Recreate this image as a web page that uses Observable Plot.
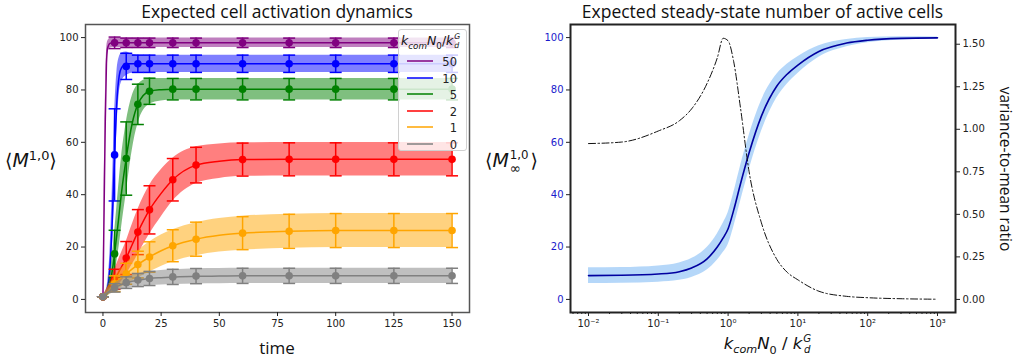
<!DOCTYPE html>
<html><head><meta charset="utf-8">
<script src="https://cdn.jsdelivr.net/npm/d3@7"></script>
<script src="https://cdn.jsdelivr.net/npm/@observablehq/plot@0.6"></script>
<style>
body{margin:0;background:#fff;}
#wrap{position:relative;width:1020px;height:363px;overflow:hidden;background:#fff;}
.abs{position:absolute;}
.title{font-family:"Open Sans",sans-serif;font-size:17.5px;line-height:20px;color:#111;text-align:center;white-space:nowrap;}
.math{font-family:"DejaVu Sans",sans-serif;color:#111;white-space:nowrap;}
.math i{font-style:oblique;}
.ss{display:inline-flex;flex-direction:column;vertical-align:middle;line-height:1.05;font-size:0.62em;margin-left:1px;}
#legend{border:1px solid #d0d0d0;border-radius:3px;background:rgba(255,255,255,0.8);font-family:"DejaVu Sans",sans-serif;}
</style>
</head><body><div id="wrap"></div>
<script>
// ---------- data: left panel ----------
const seriesLabels = ["50", "10", "5", "2", "1", "0"];
const seriesColors = ["#800080", "#0000ff", "#008000", "#ff0000", "#ffa500", "#808080"];
const tCurve = [0,0.5,1,1.5,2,3,4,5,6,7,8,10,12.5,15,20,25,30,40,50,60,80,100,125,150];
const curveMean = [
  [1,35,68,90,96,97.8,98,98,98,98,98,98,98,98,98,98,98,98,98,98,98,98,98,98],
  [1,1.3,1.8,2.5,4,12,30,55,76,85.5,88.5,90,90,90,90,90,90,90,90,90,90,90,90,90],
  [1,1.3,1.7,2.2,3,6,11,17.5,25,33,41,54,67,74.5,79.5,80.1,80.3,80.3,80.3,80.3,80.3,80.3,80.3,80.3],
  [1,1.5,2,2.6,3.2,4.5,6,7.7,9.2,10.8,12.4,15.8,20.8,25.7,34.2,40.5,45.7,51.3,52.8,53.4,53.5,53.5,53.5,53.5],
  [1,1.5,2,2.5,3,4,5,6,6.8,7.6,8.3,9.8,11.6,13.3,16.2,18.6,20.5,23,24.5,25.3,26,26.3,26.3,26.3],
  [1,1.5,1.9,2.3,2.7,3.3,3.9,4.4,4.9,5.3,5.7,6.3,6.9,7.3,8,8.3,8.5,8.8,8.9,9,9,9,9,9]
];
const curveSd = [
  [0,6,6,4,2.5,1.9,1.8,1.8,1.8,1.8,1.8,1.8,1.8,1.8,1.8,1.8,1.8,1.8,1.8,1.8,1.8,1.8,1.8,1.8],
  [0,0.5,1,1.5,2.5,6,12,16,11,7,5.5,4.5,3.6,3.3,3.3,3.3,3.3,3.3,3.3,3.3,3.3,3.3,3.3,3.3],
  [0,0.4,0.8,1.2,1.8,3.5,5.5,8,10.5,12.5,13.5,13.5,10.5,7.5,5,4.3,4.1,4.1,4.1,4.1,4.1,4.1,4.1,4.1],
  [0,0.5,0.8,1.1,1.4,2,2.9,3.8,4.4,5,5.5,6.3,7.6,8.6,9.3,9,8.2,7,6.6,6.4,6.4,6.4,6.4,6.4],
  [0,0.6,0.9,1.2,1.5,2,2.5,3,3.2,3.5,3.7,4,4.6,5.1,5.7,6,6.1,6.3,6.4,6.5,6.5,6.5,6.5,6.5],
  [0,0.6,0.8,1,1.1,1.3,1.5,1.7,1.8,1.95,2.05,2.2,2.4,2.5,2.65,2.75,2.8,2.9,2.9,2.9,2.9,2.9,2.9,2.9]
];
const tPoints = [0,5,10,15,20,30,40,60,80,100,125,150];
const pointMean = [
  [1,98,98,98,98,98,98,98,98,98,98,98],
  [1,55.2,89,90,90,90,90,90,90,90,90,90],
  [1,17.4,53.8,74.5,79.5,80.3,80.3,80.3,80.3,80.3,80.3,80.3],
  [1,7.7,15.8,25.7,34.2,45.7,51.3,53.4,53.5,53.5,53.5,53.5],
  [1,6,9.8,13.3,16.2,20.5,23,25.3,26,26.3,26.3,26.3],
  [1,4.4,6.4,7.4,8,8.6,8.9,9,9,9,9,9]
];
const pointErr = [
  [0,2.2,1.8,1.8,1.8,1.8,1.8,1.8,1.8,1.8,1.8,1.8],
  [0,17.6,5,3.3,3.3,3.3,3.3,3.3,3.3,3.3,3.3,3.3],
  [0,9,14,7.7,5,4.1,4.1,4.1,4.1,4.1,4.1,4.1],
  [0,3.8,6.3,8.6,9.2,8.1,6.8,6.3,6.3,6.3,6.3,6.3],
  [0,3,4,5.1,5.8,6.1,6.5,6.3,6.5,6.5,6.5,6.5],
  [0,1.6,2.2,2.5,2.7,2.9,2.9,2.9,2.9,2.9,2.9,2.9]
];
const timeTicks = [0,25,50,75,100,125,150];
const countTicks = [0,20,40,60,80,100];

// ---------- data: right panel ----------
const kVals = [0.01,0.03,0.1,0.2,0.3,0.5,0.7,0.85,1,1.2,1.5,2,3,5,7,10,20,50,100,300,1000];
const steadyMean = [9.1,9.2,9.7,10.6,12.0,15.5,20,23.5,27,34,44,56,70,81.5,86,89.5,94.7,97.9,99,99.7,99.9];
const steadySd = [3.0,3.0,3.1,3.3,3.6,4.3,5.0,5.6,6.1,6.5,6.8,6.6,5.9,4.5,3.8,3.2,2.2,1.4,1.0,0.6,0.3];
const vmr = [0.916,0.925,0.99,1.05,1.12,1.27,1.42,1.535,1.52,1.40,1.13,0.75,0.45,0.235,0.16,0.115,0.048,0.018,0.01,0.004,0.001];
const kMajor = [0.01,0.1,1,10,100,1000];
const kMajorLabels = ["10⁻²","10⁻¹","10⁰","10¹","10²","10³"];
const vmrTicks = [0,0.25,0.5,0.75,1.0,1.25,1.5];
const vmrMax = 1.539;

// ---------- build ----------
const wrap = document.getElementById("wrap");
const capSymbol = {draw(ctx, size){ const w = Math.sqrt(size/Math.PI); ctx.moveTo(-w,0); ctx.lineTo(w,0);} };
const font = {fontFamily:"DejaVu Sans, sans-serif", fontSize:"10px", color:"#222", background:"transparent", overflow:"visible"};

const leftMarks = [];
seriesLabels.forEach((lab, i) => {
  const col = seriesColors[i];
  const curve = tCurve.map((t, j) => ({t, m: curveMean[i][j], s: curveSd[i][j]}));
  const pts = tPoints.map((t, j) => ({t, m: pointMean[i][j], e: pointErr[i][j]}));
  leftMarks.push(
    Plot.areaY(curve, {x:"t", y1: d => d.m - d.s, y2: d => d.m + d.s, fill: col, fillOpacity: 0.5, curve: "monotone-x"}),
    Plot.line(curve, {x:"t", y:"m", stroke: col, strokeWidth: 1.5, curve: "monotone-x"}),
    Plot.ruleX(pts, {x:"t", y1: d => d.m - d.e, y2: d => d.m + d.e, stroke: col, strokeWidth: 1.5}),
    Plot.dot(pts, {x:"t", y: d => d.m + d.e, symbol: capSymbol, r: 6, stroke: col, strokeWidth: 1.5, fill: "none"}),
    Plot.dot(pts, {x:"t", y: d => d.m - d.e, symbol: capSymbol, r: 6, stroke: col, strokeWidth: 1.5, fill: "none"}),
    Plot.dot(pts, {x:"t", y:"m", r: 3.8, fill: col, stroke: "none"})
  );
});
const left = Plot.plot({
  width: 500, height: 363,
  marginLeft: 85, marginRight: 31, marginTop: 24, marginBottom: 51,
  x: {domain: [-7.5, 157.5]},
  y: {domain: [-5, 105]},
  style: font,
  marks: [
    ...leftMarks,
    Plot.frame({stroke: "#555", strokeWidth: 1.5}),
    Plot.axisX({ticks: timeTicks, tickSize: 4, tickPadding: 3, label: null, tickFormat: d => String(d)}),
    Plot.axisY({ticks: countTicks, tickSize: 4, tickPadding: 3, label: null, tickFormat: d => String(d)})
  ]
});
left.style.position = "absolute"; left.style.left = "0px"; left.style.top = "0px";
wrap.appendChild(left);

const vScale = 100 / vmrMax;
const rData = kVals.map((k, j) => ({k, m: steadyMean[j], s: steadySd[j], v: vmr[j]}));
const minorK = [];
for (let e = -3; e <= 3; e++) for (let m = 2; m <= 9; m++) { const v = m * Math.pow(10, e); if (v > 0.0056 && v < 1800) minorK.push(v); }
const right = Plot.plot({
  width: 520, height: 363,
  marginLeft: 70, marginRight: 65, marginTop: 24, marginBottom: 51,
  x: {type: "log", domain: [Math.pow(10, -2.258), Math.pow(10, 3.258)]},
  y: {domain: [-5, 105]},
  style: font,
  marks: [
    Plot.areaY(rData, {x:"k", y1: d => d.m - d.s, y2: d => d.m + d.s, fill: "#a8d0f8", fillOpacity: 0.85, curve: "monotone-x"}),
    Plot.line(rData, {x:"k", y:"m", stroke: "#0000a0", strokeWidth: 1.6, curve: "monotone-x"}),
    Plot.line(rData, {x:"k", y: d => d.v * vScale, stroke: "#111", strokeWidth: 1, strokeDasharray: "7,2.5,1.5,2.5", curve: "monotone-x"}),
    Plot.frame({stroke: "#222", strokeWidth: 2}),
    Plot.axisX({ticks: kMajor, tickSize: 4, tickPadding: 3, label: null, tickFormat: d => kMajorLabels[kMajor.indexOf(d)]}),
    Plot.axisX({ticks: minorK, tickSize: 2, label: null, tickFormat: () => ""}),
    Plot.axisY({ticks: countTicks, tickSize: 4, label: null, tickFormat: () => ""}),
    Plot.axisY({ticks: countTicks, tickSize: 0, tickPadding: 7, label: null, color: "#1a1acc", tickFormat: d => String(d)}),
    Plot.axisY({anchor: "right", ticks: vmrTicks.map(t => t * vScale), tickSize: 4, tickPadding: 3, label: null,
      tickFormat: d => vmrTicks[vmrTicks.findIndex(t => Math.abs(t * vScale - d) < 1e-6)].toFixed(2)})
  ]
});
right.style.position = "absolute"; right.style.left = "500px"; right.style.top = "0px";
wrap.appendChild(right);

// ---------- text ----------
function addHTML(html, css, cls) {
  const d = document.createElement("div");
  d.className = "abs " + (cls || "");
  d.innerHTML = html;
  Object.assign(d.style, css);
  wrap.appendChild(d);
  return d;
}
addHTML("Expected cell activation dynamics", {left:"85px", width:"384px", top:"1px"}, "title");
addHTML("Expected steady-state number of active cells", {left:"570px", width:"385px", top:"1px"}, "title");
addHTML("time", {left:"85px", width:"384px", top:"338px", fontSize:"17px"}, "title");
addHTML("variance-to-mean ratio", {left:"916px", top:"159px", width:"180px", transform:"rotate(90deg)", transformOrigin:"50% 50%", fontSize:"15.5px"}, "title");
addHTML("⟨<i>M</i><sup style='font-size:0.68em'>1,0</sup>⟩", {left:"5px", top:"148px", fontSize:"19px"}, "math");
addHTML("⟨<i>M</i><span class='ss' style='margin-right:2px'><span style='margin-bottom:1px'>1,0</span><span style='font-size:1.15em;line-height:0.9'>∞</span></span>⟩", {left:"485px", top:"149px", fontSize:"19px"}, "math");
addHTML("<i>k<sub style='font-size:0.68em'>com</sub>N</i><sub style='font-size:0.68em'>0</sub> / <i>k</i><span class='ss'><i>G</i><i>d</i></span>",
  {left:"575px", width:"385px", top:"334px", fontSize:"16.5px", textAlign:"center"}, "math");

// legend
const lg = addHTML("", {left:"398px", top:"29px", width:"67px", height:"120px"});
lg.id = "legend";
const lt = document.createElement("div");
lt.className = "math";
Object.assign(lt.style, {position:"absolute", left:"2px", top:"3px", fontSize:"12.5px"});
lt.innerHTML = "<i>k<sub style='font-size:0.7em'>com</sub>N</i><sub style='font-size:0.7em'>0</sub>/<i>k</i><span class='ss'><i>G</i><i>d</i></span>";
lg.appendChild(lt);
seriesLabels.forEach((lab, i) => {
  const row = document.createElement("div");
  Object.assign(row.style, {position:"absolute", left:"0px", top:(24 + i * 16.5) + "px", width:"67px", height:"14px"});
  row.innerHTML = `<svg width="67" height="14" style="position:absolute;left:0;top:0"><line x1="8" x2="34" y1="7" y2="7" stroke="${seriesColors[i]}" stroke-width="1.5"/><text x="58" y="11.5" text-anchor="end" font-family="DejaVu Sans" font-size="11.5" fill="#222">${lab}</text></svg>`;
  lg.appendChild(row);
});
</script></body></html>
